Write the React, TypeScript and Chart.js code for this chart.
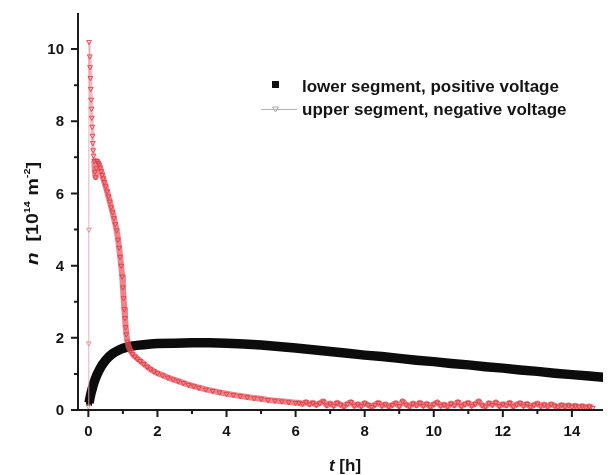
import React, { useEffect, useRef } from 'react';
import { Chart, registerables } from 'chart.js';

Chart.register(...registerables);

// lower segment, positive voltage: [t (h), n (1e14 m^-2)]
const blackSeries: [number, number][] = [
  [0.02, 0.2], [0.05, 0.35], [0.08, 0.48], [0.12, 0.62], [0.16, 0.75], [0.2, 0.86],
  [0.25, 0.98], [0.3, 1.08], [0.35, 1.17], [0.4, 1.25], [0.5, 1.38], [0.6, 1.48],
  [0.7, 1.56], [0.8, 1.62], [0.9, 1.67], [1.0, 1.71], [1.2, 1.76], [1.4, 1.79],
  [1.6, 1.81], [1.8, 1.83], [2.0, 1.84], [2.5, 1.85], [3.0, 1.86], [3.5, 1.86],
  [4.0, 1.85], [4.5, 1.83], [5.0, 1.8], [5.5, 1.76], [6.0, 1.72], [6.5, 1.67],
  [7.0, 1.62], [7.5, 1.57], [8.0, 1.52], [8.5, 1.48], [9.0, 1.43], [9.5, 1.38],
  [10.0, 1.34], [10.5, 1.29], [11.0, 1.25], [11.5, 1.2], [12.0, 1.16], [12.5, 1.11],
  [13.0, 1.07], [13.5, 1.02], [14.0, 0.98], [14.5, 0.94], [15.0, 0.9],
];

// upper segment, negative voltage: [t (h), n (1e14 m^-2)]
const redSeries: [number, number][] = [
  [0.0, 0.1], [0.01, 1.85], [0.015, 5.0], [0.02, 10.2], [0.04, 9.8], [0.05, 9.5],
  [0.06, 9.2], [0.07, 8.9], [0.08, 8.6], [0.09, 8.35], [0.1, 8.1], [0.11, 7.85],
  [0.12, 7.6], [0.13, 7.4], [0.14, 7.2], [0.15, 7.05], [0.17, 6.9], [0.19, 6.6],
  [0.21, 6.45], [0.23, 6.7], [0.25, 6.9], [0.28, 6.85], [0.31, 6.8], [0.34, 6.72],
  [0.37, 6.62], [0.4, 6.52], [0.43, 6.42], [0.46, 6.32], [0.5, 6.2], [0.54, 6.06],
  [0.58, 5.92], [0.62, 5.78], [0.66, 5.62], [0.7, 5.48], [0.74, 5.32], [0.78, 5.15],
  [0.82, 4.98], [0.86, 4.72], [0.89, 4.5], [0.92, 4.25], [0.95, 4.0], [0.98, 3.7],
  [1.0, 3.4], [1.02, 3.1], [1.04, 2.8], [1.06, 2.55], [1.08, 2.3], [1.1, 2.1],
  [1.13, 1.9], [1.17, 1.74], [1.22, 1.64], [1.28, 1.55], [1.35, 1.48], [1.42, 1.42],
  [1.5, 1.36], [1.6, 1.28], [1.7, 1.2], [1.8, 1.13], [1.9, 1.07], [2.0, 1.02],
  [2.15, 0.96], [2.3, 0.9], [2.45, 0.85], [2.6, 0.8], [2.75, 0.75], [2.9, 0.7],
  [3.05, 0.66], [3.2, 0.62], [3.4, 0.57], [3.6, 0.53], [3.8, 0.49], [4.0, 0.45],
  [4.2, 0.42], [4.4, 0.39], [4.6, 0.36], [4.8, 0.33], [5.0, 0.31], [5.2, 0.28],
  [5.4, 0.26], [5.6, 0.24], [5.8, 0.22], [6.0, 0.2],
  [6.1, 0.2], [6.2, 0.17], [6.3, 0.22], [6.4, 0.16], [6.5, 0.2], [6.6, 0.14],
  [6.7, 0.19], [6.8, 0.24], [6.9, 0.13], [7.0, 0.18], [7.1, 0.12], [7.2, 0.2],
  [7.3, 0.15], [7.4, 0.1], [7.5, 0.17], [7.6, 0.22], [7.7, 0.12], [7.8, 0.16],
  [7.9, 0.11], [8.0, 0.19], [8.1, 0.14], [8.2, 0.09], [8.3, 0.15], [8.4, 0.2],
  [8.5, 0.12], [8.6, 0.16], [8.7, 0.1], [8.8, 0.14], [8.9, 0.19], [9.0, 0.11],
  [9.1, 0.24], [9.2, 0.15], [9.3, 0.1], [9.4, 0.18], [9.5, 0.13], [9.6, 0.2],
  [9.7, 0.12], [9.8, 0.17], [9.9, 0.09], [10.0, 0.16], [10.1, 0.21], [10.2, 0.12],
  [10.3, 0.15], [10.4, 0.1], [10.5, 0.18], [10.6, 0.13], [10.7, 0.22], [10.8, 0.11],
  [10.9, 0.16], [11.0, 0.2], [11.1, 0.12], [11.2, 0.17], [11.3, 0.24], [11.4, 0.13],
  [11.5, 0.1], [11.6, 0.19], [11.7, 0.14], [11.8, 0.21], [11.9, 0.11], [12.0, 0.16],
  [12.1, 0.13], [12.2, 0.2], [12.3, 0.1], [12.4, 0.15], [12.5, 0.19], [12.6, 0.12],
  [12.7, 0.17], [12.8, 0.09], [12.9, 0.14], [13.0, 0.18], [13.1, 0.11], [13.2, 0.15],
  [13.3, 0.1], [13.4, 0.16], [13.5, 0.12], [13.6, 0.08], [13.7, 0.14], [13.8, 0.1],
  [13.9, 0.13], [14.0, 0.09], [14.1, 0.12], [14.2, 0.08], [14.3, 0.11], [14.4, 0.07],
  [14.5, 0.1], [14.6, 0.06],
];

const xMajorTicks = [0, 2, 4, 6, 8, 10, 12, 14];
const xMinorTicks = [1, 3, 5, 7, 9, 11, 13];
const yMajorTicks = [0, 2, 4, 6, 8, 10];
const yMinorTicks = [1, 3, 5, 7, 9];

const legendLabels = ['lower segment, positive voltage', 'upper segment, negative voltage'];

const FONT = '"Liberation Sans", Arial, sans-serif';
const RED_MARK = 'rgba(222, 58, 66, 0.85)';
const RED_BAND = 'rgba(232, 84, 92, 0.72)';
const RED_LIGHT = 'rgba(236, 140, 152, 0.6)';
const RED_THIN = 'rgba(236, 165, 176, 0.9)';

const customPlugin = {
  id: 'customAxesAndLegend',
  afterDraw(chart: any) {
    const { ctx, chartArea: a, scales } = chart;
    const x = scales.x;
    const y = scales.y;
    ctx.save();
    ctx.strokeStyle = '#1a1a1a';
    ctx.lineWidth = 2;
    ctx.beginPath();
    ctx.moveTo(a.left, a.top);
    ctx.lineTo(a.left, a.bottom + 1);
    ctx.moveTo(a.left - 1, a.bottom);
    ctx.lineTo(a.right, a.bottom);
    yMajorTicks.forEach((v) => {
      const p = y.getPixelForValue(v);
      ctx.moveTo(a.left, p);
      ctx.lineTo(a.left - 7, p);
    });
    yMinorTicks.forEach((v) => {
      const p = y.getPixelForValue(v);
      ctx.moveTo(a.left, p);
      ctx.lineTo(a.left - 4, p);
    });
    xMajorTicks.forEach((v) => {
      const p = x.getPixelForValue(v);
      ctx.moveTo(p, a.bottom);
      ctx.lineTo(p, a.bottom + 7);
    });
    xMinorTicks.forEach((v) => {
      const p = x.getPixelForValue(v);
      ctx.moveTo(p, a.bottom);
      ctx.lineTo(p, a.bottom + 4);
    });
    ctx.stroke();

    // tick labels
    ctx.fillStyle = '#141414';
    ctx.font = `bold 15px ${FONT}`;
    ctx.textAlign = 'right';
    ctx.textBaseline = 'middle';
    yMajorTicks.forEach((v) => {
      ctx.fillText(String(v), a.left - 14, y.getPixelForValue(v) + 1);
    });
    ctx.textAlign = 'center';
    xMajorTicks.forEach((v) => {
      ctx.fillText(String(v), x.getPixelForValue(v), a.bottom + 22);
    });

    // x title: t [h]
    ctx.textAlign = 'left';
    ctx.textBaseline = 'alphabetic';
    const xt1 = 't';
    const xt2 = ' [h]';
    ctx.font = `italic bold 17px ${FONT}`;
    const w1 = ctx.measureText(xt1).width;
    ctx.font = `bold 17px ${FONT}`;
    const w2 = ctx.measureText(xt2).width;
    const xs = 345 - (w1 + w2) / 2;
    ctx.font = `italic bold 17px ${FONT}`;
    ctx.fillText(xt1, xs, 471);
    ctx.font = `bold 17px ${FONT}`;
    ctx.fillText(xt2, xs + w1, 471);

    // y title: n [10^14 m^-2]
    const parts: { t: string; f: string; dy: number }[] = [
      { t: 'n', f: `italic bold 17px ${FONT}`, dy: 0 },
      { t: '  [10', f: `bold 16px ${FONT}`, dy: 0 },
      { t: '14', f: `bold 9px ${FONT}`, dy: -8 },
      { t: ' m', f: `bold 16px ${FONT}`, dy: 0 },
      { t: '-2', f: `bold 9px ${FONT}`, dy: -8 },
      { t: ']', f: `bold 16px ${FONT}`, dy: 0 },
    ];
    let total = 0;
    const widths = parts.map((p) => {
      ctx.font = p.f;
      const w = ctx.measureText(p.t).width;
      total += w;
      return w;
    });
    const sx = 103 / total;
    ctx.save();
    ctx.translate(38, 213.5);
    ctx.rotate(-Math.PI / 2);
    ctx.scale(sx, 1);
    let cx = -total / 2;
    parts.forEach((p, i) => {
      ctx.font = p.f;
      ctx.fillText(p.t, cx, p.dy);
      cx += widths[i];
    });
    ctx.restore();

    // legend
    ctx.fillStyle = '#111';
    ctx.fillRect(272, 81, 7, 7);
    ctx.strokeStyle = 'rgba(185, 175, 178, 1)';
    ctx.lineWidth = 1;
    ctx.beginPath();
    ctx.moveTo(261, 109.5);
    ctx.lineTo(297, 109.5);
    ctx.stroke();
    ctx.strokeStyle = 'rgba(175, 165, 168, 1)';
    ctx.beginPath();
    ctx.moveTo(272.5, 107);
    ctx.lineTo(278.5, 107);
    ctx.lineTo(275.5, 112);
    ctx.closePath();
    ctx.stroke();

    ctx.fillStyle = '#141414';
    ctx.font = `bold 17px ${FONT}`;
    ctx.textAlign = 'left';
    ctx.textBaseline = 'alphabetic';
    ctx.fillText(legendLabels[0], 302, 92, 266);
    ctx.fillText(legendLabels[1], 302, 115, 273);
    ctx.restore();
  },
};

export default function App() {
  const canvasRef = useRef<HTMLCanvasElement | null>(null);

  useEffect(() => {
    if (!canvasRef.current) return;
    const chart = new Chart(canvasRef.current, {
      type: 'scatter',
      data: {
        datasets: [
          {
            label: legendLabels[1],
            data: redSeries.map(([t, n]) => ({ x: t, y: n })),
            showLine: true,
            borderColor: RED_BAND,
            borderWidth: 6,
            borderJoinStyle: 'round',
            segment: {
              borderColor: (c: any) =>
                c.p0DataIndex < 4 ? RED_THIN : c.p0DataIndex < 16 ? RED_LIGHT : RED_BAND,
              borderWidth: (c: any) => (c.p0DataIndex < 4 ? 1 : c.p0DataIndex < 16 ? 3.5 : 6),
            },
            pointStyle: 'triangle',
            rotation: 180,
            pointRadius: 2.8,
            pointBorderWidth: 1,
            pointBorderColor: (c: any) => (c.dataIndex < 3 ? 'rgba(215,150,160,0.9)' : RED_MARK),
            pointBackgroundColor: 'rgba(255,255,255,0)',
            order: 1,
          },
          {
            label: legendLabels[0],
            data: blackSeries.map(([t, n]) => ({ x: t, y: n })),
            showLine: true,
            borderColor: '#0c0c0c',
            borderWidth: 9.5,
            borderCapStyle: 'butt',
            pointStyle: 'rect',
            pointRadius: 4.2,
            pointBorderWidth: 0,
            pointBackgroundColor: '#0c0c0c',
            order: 2,
          },
        ],
      },
      options: {
        animation: false,
        responsive: true,
        maintainAspectRatio: false,
        layout: { padding: { top: 13, right: 0, left: 0, bottom: 0 } },
        plugins: {
          legend: { display: false },
          tooltip: { enabled: false },
        },
        scales: {
          x: {
            type: 'linear',
            min: -0.3,
            max: 14.9,
            grid: { display: false },
            border: { display: false },
            ticks: { display: false, includeBounds: false },
            afterFit: (s: any) => {
              s.height = 65;
            },
          },
          y: {
            type: 'linear',
            min: 0,
            max: 11,
            grid: { display: false },
            border: { display: false },
            ticks: { display: false, includeBounds: false },
            afterFit: (s: any) => {
              s.width = 78;
            },
          },
        },
      },
      plugins: [customPlugin],
    } as any);
    return () => chart.destroy();
  }, []);

  return (
    <div style={{ position: 'absolute', left: 0, top: 0, width: 608, height: 475, background: '#fff' }}>
      <canvas ref={canvasRef} />
    </div>
  );
}
